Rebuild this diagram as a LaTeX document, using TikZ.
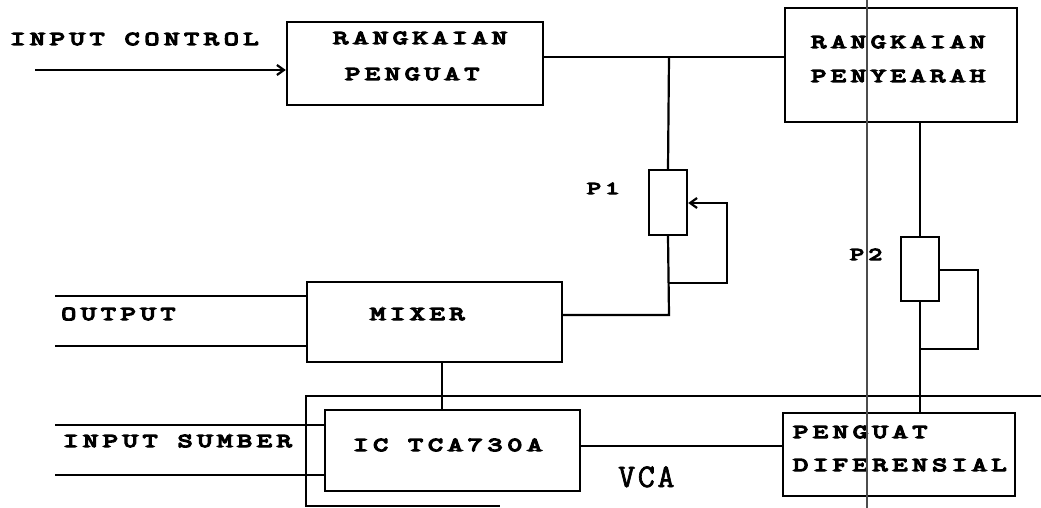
\documentclass[tikz,border=0pt]{standalone}
\usepackage{fontspec}
\usetikzlibrary{arrows.meta}
\newfontfamily\dotfont[FakeStretch=1.5,LetterSpace=24,FakeBold=7]{Latin Modern Mono}
\newfontfamily\vcafont[LetterSpace=8,FakeBold=2]{Latin Modern Mono}
\begin{document}
\begin{tikzpicture}[x=1pt,y=-1pt,
  wire/.style={line width=2.2pt,line join=miter},
  blk/.style={draw,line width=2.4pt,rectangle,inner sep=0pt},
  lbl/.style={anchor=base west,inner sep=0pt,font=\dotfont\fontsize{19.6}{22}\selectfont},
  small/.style={anchor=base west,inner sep=0pt,font=\dotfont\fontsize{18}{20}\selectfont}]
\useasboundingbox[fill=white] (0,0) rectangle (1041,508);
% blocks
\node[blk,minimum width=256pt,minimum height=83pt] (pen) at (415,63.5) {};
\node[blk,minimum width=232pt,minimum height=114pt] (sear) at (901,65) {};
\node[blk,minimum width=38pt,minimum height=65pt] (p1) at (668,202.5) {};
\node[blk,minimum width=38pt,minimum height=64pt] (p2) at (920,269) {};
\node[blk,minimum width=255pt,minimum height=80pt] (mix) at (434.5,322) {};
\node[blk,minimum width=255pt,minimum height=81pt] (ic) at (452.5,450.5) {};
\node[blk,minimum width=232pt,minimum height=83pt] (dif) at (899,454.5) {};
% labels
\node[lbl] (tic) at (10,45) {INPUT CONTROL};
\node[lbl] (tpen1) at (333,44) {RANGKAIAN};
\node[lbl] (tpen2) at (345,80) {PENGUAT};
\node[lbl] (tsear1) at (811,48) {RANGKAIAN};
\node[lbl] (tsear2) at (811,82) {PENYEARAH};
\node[small] (tp1) at (587,194) {P1};
\node[small] (tp2) at (850,260) {P2};
\node[lbl] (tout) at (61,320) {OUTPUT};
\node[lbl] (tmix) at (370,320) {MIXER};
\node[lbl] (tis) at (63,447) {INPUT SUMBER};
\node[lbl] (tic2) at (353,451) {IC TCA730A};
\node[lbl] (tdif1) at (793,438) {PENGUAT};
\node[lbl] (tdif2) at (793,471) {DIFERENSIAL};
\node[anchor=base west,inner sep=0pt,font=\vcafont\fontsize{33}{36}\selectfont] (tvca) at (618,487) {VCA};
% coordinates
\coordinate (cin) at (35,70);
\coordinate (j1) at (669,57);
\coordinate (w1) at (727,203);
\coordinate (w2) at (727,283);
\coordinate (j2) at (669,315);
\coordinate (q1) at (978,270);
\coordinate (q2) at (978,349);
\coordinate (o1) at (55,296);
\coordinate (o2) at (55,346);
\coordinate (s1) at (55,425);
\coordinate (s2) at (55,475);
\coordinate (m1) at (442,362);
\coordinate (d1) at (580,446);
\coordinate (v1) at (1041,396);
\coordinate (v2) at (306,396);
\coordinate (v3) at (306,506);
\coordinate (v4) at (500,506);
\coordinate (g1) at (867,0);
\coordinate (g2) at (867,508);
% connectors
\draw[wire,-{Straight Barb[length=7pt,width=10pt]}] (cin) -- (cin -| pen.west);
\draw[wire] (j1 -| pen.east) -- (j1 -| sear.west);
\draw[wire] (j1) -- (p1.north);
\draw[wire,-{Straight Barb[length=7pt,width=10pt]}] (p1.south |- w2) -- (w2) -- (w1) -- (w1 -| p1.east);
\draw[wire] (p1.south) -- (j2) -- (j2 -| mix.east);
\draw[wire] (p2.north |- sear.south) -- (p2.north);
\draw[wire] (q1 -| p2.east) -- (q1) -- (q2) -- (q2 -| p2.south);
\draw[wire] (p2.south) -- (p2.south |- dif.north);
\draw[wire] (o1) -- (o1 -| mix.west);
\draw[wire] (o2) -- (o2 -| mix.west);
\draw[wire] (m1) -- (m1 |- ic.north);
\draw[wire] (s1) -- (s1 -| ic.west);
\draw[wire] (s2) -- (s2 -| ic.west);
\draw[wire] (d1) -- (d1 -| dif.west);
\draw[wire] (v1) -- (v2) -- (v3) -- (v4);
\draw[line width=2pt,black!70] (g1) -- (g2);
\end{tikzpicture}
\end{document}
